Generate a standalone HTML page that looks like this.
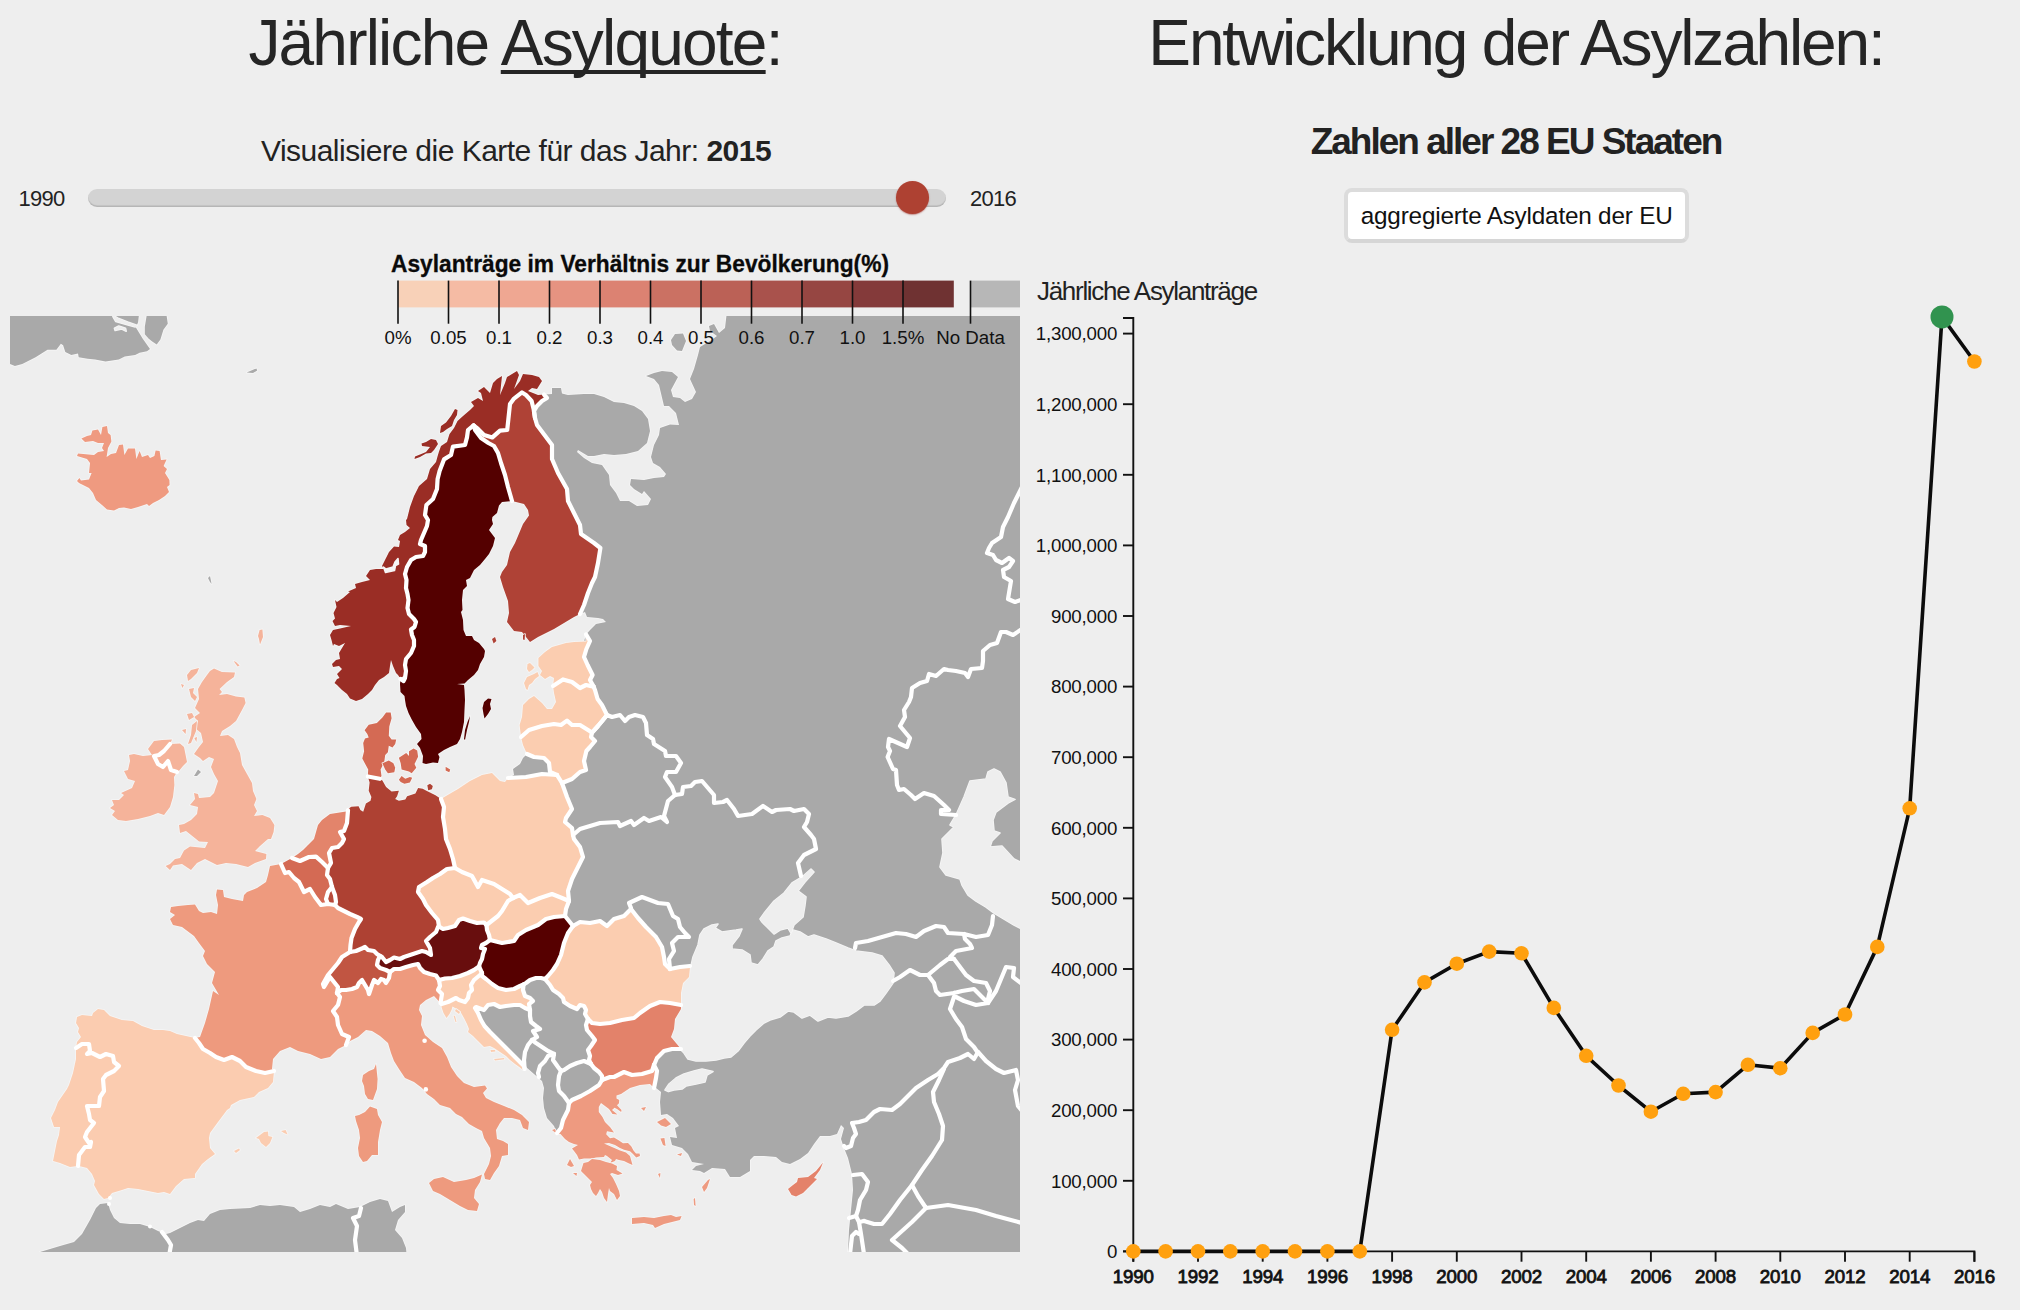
<!DOCTYPE html>
<html lang="de"><head><meta charset="utf-8"><title>Asyl in Europa</title>
<style>
html,body{margin:0;padding:0;background:#eeeeee;}
body{width:2020px;height:1310px;overflow:hidden;position:relative;font-family:"Liberation Sans",Arial,sans-serif;color:#222;}
.abs{position:absolute;white-space:nowrap;}
h1{margin:0;font-weight:400;font-size:64px;line-height:1;color:#252525;letter-spacing:-1.8px}
#t1{left:0;width:1030px;top:11px;text-align:center;}
#t1 u{text-decoration-thickness:3.8px;text-decoration-skip-ink:none;text-underline-offset:5.2px}
#t2{left:1011px;width:1010px;top:11px;text-align:center;letter-spacing:-2.15px}
#sub{left:0;width:1032px;top:133.5px;text-align:center;font-size:30px;letter-spacing:-.52px;color:#222;}
#h3{left:1010px;width:1012px;top:120.5px;text-align:center;font-size:37px;font-weight:700;color:#222;letter-spacing:-2.0px}
#y0{left:18.5px;top:185.9px;font-size:22px;letter-spacing:-.7px;color:#222}
#y1{left:970px;top:185.9px;font-size:22px;letter-spacing:-.7px;color:#222}
#track{left:87.7px;top:188.7px;width:858.1px;height:18.2px;border-radius:9.1px;background:#d3d3d3;box-shadow:inset 0 -1.6px 1px rgba(0,0,0,.14);}
#thumb{left:895.8px;top:181px;width:33px;height:33px;border-radius:50%;background:#ae4132;box-shadow:0 .8px 1.5px rgba(150,30,20,.55)}
#btn{left:1344.3px;top:188px;width:336.7px;height:46.5px;border:4px solid #dcdcdc;border-bottom-color:#d6d6d6;border-radius:8px;background:#fff;text-align:center;font-size:24.3px;letter-spacing:-.2px;line-height:48.5px;color:#111;}
svg text{font-family:"Liberation Sans",Arial,sans-serif;}
.yt{font-size:18.7px;letter-spacing:-.2px;fill:#111}
.xt{font-size:18.7px;fill:#111;stroke:#111;stroke-width:.8px;letter-spacing:-.15px}
.lt{font-size:18.7px;fill:#111}
.ltitle{font-size:24px;font-weight:700;fill:#0a0a0a;stroke:#0a0a0a;stroke-width:.3px}
.ylab{font-size:26px;letter-spacing:-1.3px;fill:#222}
</style></head><body>
<svg class="abs" style="left:0;top:0" width="2020" height="1310" viewBox="0 0 2020 1310">
<defs><clipPath id="mc"><rect x="10" y="316" width="1010" height="936"/></clipPath></defs>
<g clip-path="url(#mc)">
<g stroke="#f6f6f6" stroke-width="1.6" stroke-linejoin="round" paint-order="stroke">
<path d="M139.6,308.9L138.1,322.3L135.9,327.5L142.6,338.6L150,349L147,351.2L139.6,352.7L135.2,355L124.8,356.4L118.8,359.4L105.5,361.6L95.1,359.4L87.6,358.7L78.7,357.2L78,353.5L71.3,355L65.3,352L63.1,345.3L60.9,343.8L56.4,349.8L47.5,349.8L35.6,357.2L22.3,363.9L14.9,366.1L5.9,362.4L5.9,308.9Z" fill="#a9a9a9"/>
<path d="M147.8,308.9L165.6,308.9L167.8,323.8L163.4,329.7L160.4,339.4L156.7,344.6L152.2,341.6L148.5,338.6L144.8,334.2L144.8,326.7Z" fill="#a9a9a9"/>
<path d="M112.9,316.6L115.8,321.5L126.2,324.5L135.2,327L136.9,325.2L127.7,322L118.8,318.6L114.4,316Z" fill="#eeeeee"/>
<path d="M114.4,328.2L118.8,326L125.5,328.2L126.2,331.2L121.8,329L115.1,330.4Z" fill="#eeeeee"/>
<path d="M246.6,372.6L256.4,368.4L257.2,370.6L253,373Z" fill="#a9a9a9"/>
<path d="M671,340L675,334L683,333.4L686,341L682,351L677,350.6L672,345Z" fill="#a9a9a9"/>
<path d="M208,578L210,576L211.6,584L210,582Z" fill="#a9a9a9"/>
<path d="M194,776L198,769.4L201,772L197,776Z" fill="#a9a9a9"/>
<path d="M545,394.6L552,394L552,388L561,388L562,393.4L568,395L584,394L594,394L604,397L614,402L624,403L634,406L642,411L648,419L650,431L647,443L638,451L626,454L614,455L604,454L594,456L588,456L578,450L577,452L584,458L592,463L602,465L609,475L610,485L616,493L620,501L629,501L637,506L648,505L651,499L644,491L642,494L634,489L630,485L631,479L644,480L654,478L664,477L666,474L660,467L653,463L651,457L654,445L659,435L660,428L670,424.6L679,425L676,413L669,406L664,406L659,385L654,379L646,376L654,373L662,371L672,372L678,377L671,390L673,397L680,398L685,402L692,399L696,392L690,379L694,369L698,355L700,347L710,341L717,336L710,331L709,326L714,324L719,333L725,328L727,311L1035,305L1035,1265L848,1265L848,1252L849,1230L851,1210L853,1190L852,1174L848,1158L844,1148L841,1139L844,1128L841,1125L837,1134L830,1136L820,1136L814,1144L808,1153L800,1159L790,1164L782,1162L776,1157L764,1156L754,1156L750,1160L750,1171L740,1177L730,1177L725,1169L712,1168L704,1173L700,1171L692,1170L696,1166L704,1164L692,1162L688,1154L682,1148L672,1145L670,1137L677,1138L675,1128L679,1126L673,1118L667,1114L661,1115L660,1102L661,1092L656,1088L650,1084L650,1066L634,1040L614,990L614,979L594,949L574,933L566,923L562,907L566,889L570,859L566,839L554,837L554,787L554,767L574,747L584,717L580,667L583,645L586,634.4L591,629L596,624L606,622L603,619L598,618L587,617L585,612L580,614L574,607L574,577L584,575L574,535L554,495L542,455L530,427L528,411L534,399Z" fill="#a9a9a9"/>
<path d="M691,966L693,957L698,945L700,935L704,929L712,925L718,924L715,928L722,932L736,930L742,929L739,936L732,945L732,949L742,950L750,955L751,963L758,965L763,959L768,951L774,947L776,941L782,938L790,936L793,930L800,932L808,937L814,935L826,939L836,943L848,948L856,951L872,953L882,956L889,965L894,973L893,983L886,993L880,1001L874,1005L864,1005L856,1011L848,1016L836,1018L828,1017L818,1021L810,1015L802,1018L794,1012L788,1011L780,1017L770,1020L764,1023L756,1030L750,1036L744,1043L738,1051L731,1057L724,1058L716,1060L706,1061L696,1061L688,1059L684,1053L680,1049L670,1039L670,1019L676,999L682,979Z" fill="#eeeeee"/>
<path d="M760,919L765,912L774,901L784,893L792,883L802,877L811,869L814,872L805,882L798,891L806,897L805,905L803,917L794,925L791,933L788,928L780,930L774,934L767,927L762,922Z" fill="#eeeeee"/>
<path d="M956,815L964,797L970,781L986,779L988,772L994,769L1000,772L1006,783L1008,797L1015,799.4L1008,803L996,812L993,820L994,831L1000,833L992,841L990,847L1002,846L1014,859L1022,863L1022,929L1014,925L1004,919L994,913L986,907L976,901L968,895L962,885L960,879L946,875L940,867L943,853L942,839L954,827L950,825Z" fill="#eeeeee"/>
<path d="M665,1090L669,1084L676,1078L684,1074L694,1071L702,1069L713,1071.6L707,1075L705,1082L696,1084L686,1086L682,1089L674,1090L668.4,1091.6Z" fill="#eeeeee"/>
<path d="M524,1065L526,1067L534,1074L542,1081L544,1088L543,1098L544,1108L547,1118L554,1126L557,1133L566,1130L574,1106L594,1094L606,1082L606,1050L594,1014L590,1002L594,999L574,979L554,967L542,967L526,975L518,991L494,997L474,1003L474,1009L474,1017L482,1028L491,1038L500,1047L508,1055L516,1061L523,1066Z" fill="#a9a9a9"/>
<path d="M527,754L523,758L520,764L513,769L514,775L508,778L510,783L558,781L558,769L552,761L538,753Z" fill="#a9a9a9"/>
<path d="M30,1258L40,1252L60,1246L74,1242L82,1234L90,1220L96,1208L100,1204L108,1203L110,1210L114,1218L120,1223L130,1224L140,1224L150,1227L158,1231L166,1234L170,1233L180,1228L190,1223L198,1220L204,1221L210,1214L220,1210L230,1209L250,1208L260,1205L270,1206L280,1205L294,1207L300,1212L310,1209L320,1205L330,1207L336,1204L348,1209L360,1207L370,1202L380,1199L388,1201L392,1212L400,1207L405,1205L405,1212L398,1220L395,1230L402,1238L406,1248L407,1258Z" fill="#a9a9a9"/>
<path d="M400,678L398,675L396,673L393,666L391,660L390,666L389,673L384,677L379,680L375,685L372,690L368,694L362,699L356,701L350,698.5L347,694L342,690L337,685L334.5,683L337,679L339.5,678L337,674L342,669L339,666L333,667L332,664L336,660L340,659L339,653L342,648L345,643L339,646L334,644L333,646L331.5,640L330,635L333,630L340,628.5L351,626L340,625L335,626L332.5,621L335,618.5L333.5,613L336.5,607L335,600L337,602L343,598L350,592L348,591.5L356,588L355,584L362,582L370,580L366,576L370,570L376,569L384,569L382,566L386,558L389,552L394,546.5L399,547L400,541L398,540L400,535L405,532L410,528L406.5,525L406,520L407,519L410,507L414,496L419,486L427,479L430,469L436,462L437.5,456.5L439,451.5L441,446L447,442L449.5,434L454,428L457.5,421L463,416L470,410L474,406L471,402L478,398L483,401L481,393L478,391L484,387L490,393L493,383L497,379L502,376L500,395L505,383L507,377L512,374L517,371L519,375L514,389L520,381L523,374L532,375L539,377L542,381L537,389L532,388L528,391L538,395L544,394.6L544,394.6L547,398L542,401L537,406L534,411L535,418L526,419L522,403L516,409L514,435L504,455L484,475L464,515L444,555L434,577L430,600L428,640L425,670L410,673Z" fill="#9a2d25"/>
<path d="M414.5,459L415,456.5L420,454.5L426,452L430,447L422,446L421.5,443.5L426,442L431,439L436,440L438,444L434,450L431,453L426,453.5L420,457Z" fill="#9a2d25"/>
<path d="M440,433L441,426L446,422.5L451,416L455,409L457.5,410L457,415L454,420L452,426L447,429L443,432Z" fill="#9a2d25"/>
<path d="M383.5,567L385.5,572.5L394.5,570.5L395.5,565.5L398.5,564L398,558.5L395,562L393,567L386,569Z" fill="#f6f6f6"/>
<path d="M400.5,679L400,684L400.5,692L404.5,696L405,700L406,706L408.5,713L412,720L416,727L421,734L421.5,739L417,744L420,748L423,756L422.5,763L426,764L433,762.5L438,763L439.5,757L438,754L444,750L450,747L457,744L460,739L462,732L464,722L464.5,710L465,700L464.5,690L464,685L457,684L464.5,683.5L468,680L474,675L478,670L480,664L484,657L485,651L484,649L479,643L474,640L472,636L466,636L463.5,630L463,620L461,612L462.5,610L462,600L463,590L467,586L466,580L470,578L474,570L480,565L485,559L489,554L493,546L495,538L489,530L493,524L492,520L492.4,517L497,513L499,505.4L502,502L512,501L512,501L508,487L505,475L501,463L498,453L494,446L488.4,443L481,438L475,430L473.6,425.4L473.6,425.4L468,430L467,437.4L465,445L453,446.6L451,455L444,459.4L439.6,471L437.6,479L437,489L433,499L426.4,505L425,515L428,520L427,526L424,533L421,540L420,544L425,546L425,552L423,556L416,557L411,560L407,567L405,574L406.5,580L406,588L407.5,594L408.5,600L407.5,608L409,614L414,619L416,622L414.5,627L411,629.5L412,635L414,640L414,646L411,653L406,659L405,665L406,671L405,678L403.5,681L400.5,679Z" fill="#540000"/>
<path d="M484,702L488,698.5L491.5,699L490,704L491,709L488,714L484.5,718.5L483.5,714L482.5,708Z" fill="#540000"/>
<path d="M470,716L469,722L467,730L465,740L464,739L465,730L467.5,722Z" fill="#540000"/>
<path d="M473.6,425.4L478,429L484,435L492.4,437.4L500,430.6L507.2,430L508.4,419L510,404L514,398.6L522,392.4L526,395L531.6,401L533.6,409L535,418L535,418L537,425L546,437L552,445L552,459L558,473L567,489L568,501L574,513L580,525L581,534L594,543L600.4,548L598,563L595,577L592,583L588,593L584,605L580,614L574,617L564,623L554,629L546,633L538,637L530,642L526,637L522,632L514,631L507,622L509,613L508,601L503,587L500,577L502,572L507,565L510,552L515,543L518.4,535L523,524L529,515.6L528,510L524,504L512,501L512,501L508,487L505,475L501,463L498,453L494,446L488.4,443L481,438L475,430L473.6,425.4Z" fill="#af4236"/>
<path d="M492,639L495,637L496.4,641L493.6,643.4Z" fill="#af4236"/>
<path d="M523,635L525,634L524.6,640L523,639.4Z" fill="#af4236"/>
<path d="M586,634.4L586.4,641.4L574,642L566,643L552,647L545,652L538.4,658L538.4,666L542,671L540,675L545,679L550,676L554,678L553,686L553,686L563,679.4L572,682L580,688L586,685L593.6,686.6L593.6,686.6L590,680L592.6,675L587.6,665L584,657L586.4,649L590,641L586,634.4Z" fill="#fbcdb0"/>
<path d="M527.5,664L530,663L534.5,667.5L532,670L529,672L527,669Z" fill="#fbcdb0"/>
<path d="M524,683L527,677L534,674L537.5,672L539,676L535,679L532,683L529,685L527.5,690L526,689Z" fill="#fbcdb0"/>
<path d="M553,686L554,693L556,702L552,709L547,709L542,703L534,696L529,699L523,705L522,717L519.6,725L521,737L521,737L529,730L542,726L554,724L561,725L567,720.6L572,725L580,725L588,730L592,732.6L592,732.6L598,726L603,720L607,715L602,705L597.6,699L595,690L593.6,686.6L593.6,686.6L586,685L580,688L572,682L563,679.4L553,686Z" fill="#fbcdb0"/>
<path d="M521,737L523,745L527,754L527,754L534,757L544,758L549,763L550,772L557,775L557,775L562,783L562,783L572,779L580,772L586,770L584,761L586.4,751L590,747L595,741L591,737L592,732.6L592,732.6L588,730L580,725L572,725L567,720.6L561,725L554,724L542,726L529,730L521,737Z" fill="#fbcdb0"/>
<path d="M214,668.4L222,672L235,672.6L234,677L227,682L219.6,689L222,692L219,695L227,694L236,696.4L244.4,697.6L245.6,703L242,710L236,721L230,726L222,731L220,736L228,735L234,739L237,747L240,753L242,765L247,774L252,783L253,791L256.4,799L254,805L257,811L254,816L262.4,815L270,818L274.4,825L273.6,832L271,839L268,839L260,846L255,851L266.4,854L266,859L255,863L248,867L236,864L226,863L217,865L205,859L197,863L191,870L182,864L173,865.4L170,870L165.6,866L170,864L175,859L180,858L184,850.6L190,846.6L205,848L208,842L199,841.4L196,839L191,835L186,831L180,833L179,825L184,824L191,820L197,814L198,807L190,805L195,799L194,793L198,794L199,798L210,797L214,793L218,781L214,774L211,767L214,759L209,757L203,761L200,758L194,754L199,747L203,742L201,733L195,728L198,721L194,717L200,713L195,708L199,699L198,689L202,682L207,675L210,671Z" fill="#f5b39a"/>
<path d="M187,675L191,670L199,668L197,673L191,679L188,681Z" fill="#f5b39a"/>
<path d="M181,684L184,685L182.4,688Z" fill="#f5b39a"/>
<path d="M189,689L194,688L193,693L197,697L195,701L191,697Z" fill="#f5b39a"/>
<path d="M187,714L192,713L194,717L189,720Z" fill="#f5b39a"/>
<path d="M182,730L186,729L185.6,734Z" fill="#f5b39a"/>
<path d="M192,725L197,721L196,731L191,743L188,744L191,735Z" fill="#f5b39a"/>
<path d="M194.4,738L197,737L196.4,742Z" fill="#f5b39a"/>
<path d="M233.6,661L236,662L239.6,665.4L237.6,666.6Z" fill="#f5b39a"/>
<path d="M259.6,630L262.4,629.4L263,637L260,644.6L259,639L258,636Z" fill="#f5b39a"/>
<path d="M170,744L180,743.4L184,747L186,757L187,762L183,766L178,772L177,772L177,772L171,770L168,761L163,767L158,764L154,756L159,755L164,751L170,744Z" fill="#f5b39a"/>
<path d="M148,749L154,741L162,740L172,739.4L170,744L170,744L164,751L159,755L154,756L158,764L163,767L168,761L171,770L177,772L174,777L174.4,785L173,797L170,807L164,815L158,813L150,816L138,819L126,821L118,820L112,815L115,811L110,808L114,805L112,800L119,800L124,795L121,793L132,788L135,781L128,779L124,771L128,770L130,761L129,755L134,754L143,756L152,755Z" fill="#f5b39a"/>
<path d="M281,864L270,866L268,875L266,882L257,888L247,892L244,895L243,901L232,899L224,897L223,890L217,889.4L216,895L218,905L217,914L211,912L203,913L199,911L195,904.6L188,905L178,906L171,907L170,912L175,915L170,919L173,925L182,927L194,936L199,943L205,951L203,956L207,964L215,972L212,983L219,995L213,991L209,1009L205,1023L200,1037L195,1038L195,1038L199,1043L203,1049L210,1053L216,1057L224,1060L232,1057L240,1061L246,1067L256,1071L265,1073L274,1071L272,1069L273,1059L280,1051L290,1047L298,1051L310,1054L321,1059L330,1057L338,1049L346,1045L346,1045L349,1037L342,1034L338,1025L337,1017L333,1011L338,1005L340,997L337,993L337,993L338,987L330,977L324,987L323,984L328,975L338,963L342,957L350,952L350,952L350.5,945L351.5,938L355,929L359,922L361,919L357,917L350,914L344,911L338,908L335,905L335,905L328,904L328,904L321,905L315,897L310,889L304,892L299,882L294,878L289,872L285,873L281,864Z" fill="#ee9a7e"/>
<path d="M363,1075L369,1071L374,1069L376,1064L377.6,1079L377,1089L373,1100L368,1099L365,1094L364,1086L362,1081Z" fill="#ee9a7e"/>
<path d="M195,1038L186,1036L177,1034L170,1031L163,1030L154,1030L142,1026L133,1021L122,1020L110,1016L104,1010L98,1009L93,1013L92,1016L82,1015L77,1017L76,1023L79,1028L78,1032L81,1037L77,1042L76,1048L76,1048L82,1044L89,1044L90,1051L87,1054L92,1053L100,1057L106,1054L113,1056L114,1062L119,1066L114,1071L106,1075L103,1079L104,1091L100,1097L99,1106L87,1106L89,1114L90,1120L94,1123L87,1132L85,1137L89,1143L91,1142L90,1147L85,1147L79,1155L78,1166L79,1166L87,1168L92,1174L95,1181L94,1185L99,1194L104,1199L108,1198L112,1193L122,1190L128,1188L138,1189L148,1191L158,1193L164,1192L170,1194L176,1186L184,1179L195,1178L195,1174L202,1164L208,1159L215,1154L210,1148L209,1138L210,1133L218,1122L227,1110L230,1108L231,1105L240,1100L254,1097L259,1092L268,1088L273,1082L274,1071L274,1071L265,1073L256,1071L246,1067L240,1061L232,1057L224,1060L216,1057L210,1053L203,1049L199,1043L195,1038Z" fill="#fbccb0"/>
<path d="M256,1138L264,1132L268,1131.6L268.4,1136L272.4,1137L270,1143L266,1147L261,1143L259,1139Z" fill="#fbccb0"/>
<path d="M281,1131L285.6,1130L287.6,1134.4L284,1133Z" fill="#fbccb0"/>
<path d="M234,1151L239,1148.4L240,1150L236,1153Z" fill="#fbccb0"/>
<path d="M76,1048L76,1059L73,1073L69,1085L67,1089L58,1102L55,1110L51,1118L54,1127L60,1127L59,1135L57,1141L53,1161L60,1163L70,1167L78,1166L78,1166L79,1155L85,1147L90,1147L91,1142L89,1143L85,1137L87,1132L94,1123L90,1120L89,1114L87,1106L99,1106L100,1097L104,1091L103,1079L106,1075L114,1071L119,1066L114,1062L113,1056L106,1054L100,1057L92,1053L87,1054L90,1051L89,1044L82,1044L76,1048Z" fill="#fbccb0"/>
<path d="M281,864L292,858L292,858L300,861L309,857L316,856.6L322,862L328,868L328,868L327,875L330,879L332,887L332,887L328,892L326,899L328,904L328,904L321,905L315,897L310,889L304,892L299,882L294,878L289,872L285,873L281,864Z" fill="#d46a54"/>
<path d="M332,887L328,892L326,899L328,904L328,904L335,905L335,905L336,902L335,895L332,887Z" fill="#b84a3a"/>
<path d="M348,809L346,811.4L330,814L322,820L318,825L314,839L308,845L303,850L298,854L292,858L292,858L300,861L309,857L316,856.6L322,862L328,868L328,868L331,863L329,853L332,848L338,847L342,843L344,839L340,832L344,831L347,823L348,810Z" fill="#e3846b"/>
<path d="M348,809L351.3,806.7L358.6,806.2L360.4,809.9L363.2,811.7L365.9,803.5L370.5,800.7L371.4,797.1L368.7,790.7L369.6,782.4L367.8,776.5L367.8,776.5L379.7,778.8L379.7,778.8L382.4,780.6L386.1,787L391.6,791.6L398.9,790.7L397.1,796.2L395.2,798.9L398.9,800.7L405.3,799.4L407.1,796.2L415.4,793.4L418.1,787.9L422.7,788.8L426.4,790.7L430,792.5L435.5,795.2L441,799L441,799L444,807L443,817L445,829L446,839L450,849L453,859L455,868L455,868L447,869L440,874L433,878L427,882L419,887L418,892L423,899L426,905L432,913L438,920L439,926.5L439,926.5L438,927L436,932L430,937L426,941L430,948L431,955L426,952L422,951L416,953L410,955L404,957L400,959L394,957.5L390,960L386,962L382,957L380,956L380,956L377,954L374,951L368,950L365,947L363,948L356,951L350,952L350,952L350.5,945L351.5,938L355,929L359,922L361,919L357,917L350,914L344,911L338,908L335,905L335,905L336,902L335,895L332,887L332,887L330,879L327,875L328,868L328,868L331,863L329,853L332,848L338,847L342,843L344,839L340,832L344,831L347,823L348,810Z" fill="#ae4133"/>
<path d="M427.3,785.2L430,783.8L432.8,786.1L431.9,789.3L428.2,790.2Z" fill="#ae4133"/>
<path d="M386.1,712.4L390.7,712.4L391.6,718.3L389.3,726.6L388.8,735.7L391.6,739.4L396.2,739.4L395.2,744L392.5,747.6L388.8,745.8L387.9,752.2L385.2,755L384.2,762.3L380.6,769.6L381.5,776L379.7,778.8L367.8,776.5L368.2,769.6L362.3,758.6L364.1,751.3L363.2,743L365,738.5L368.7,737.6L367.3,733.9L364.6,730.2L368.7,724.7L376.9,722.9L382.4,717.4Z" fill="#d46a54"/>
<path d="M382.4,763.2L388.8,760.4L393.4,763.2L395.2,767.8L394.3,772.3L387.9,773.3L385.2,769.6Z" fill="#d46a54"/>
<path d="M398.9,757.7L406.2,753.1L409,755.9L409,751.3L413.6,748.5L417.2,750.4L418.1,756.8L414.5,764.1L416.3,767.8L411.7,773.3L409,771.4L401.6,769.6L400.7,763.2Z" fill="#d46a54"/>
<path d="M398.9,779.7L401.6,776L405.3,778.8L409.9,776.9L412.2,777.8L409.9,782.4L404.4,783.8L400.7,782Z" fill="#d46a54"/>
<path d="M445.6,766.8L450.2,769.6L449.3,772.3L445.6,770.5Z" fill="#d46a54"/>
<path d="M350,952L356,951L363,948L365,947L368,950L374,951L377,954L380,956L380,956L378,960L377,965L380,968L386,970L390,972L390,972L389,978L386,983L384,980L381,979L378,983L374,980L372,985L369,994L368,990L365,985L362,980L359,983L357,987L352,989L346,990L341,990L337,993L337,993L338,987L330,977L324,987L323,984L328,975L338,963L342,957L350,952Z" fill="#c15542"/>
<path d="M439,926.5L438,927L436,932L430,937L426,941L430,948L431,955L426,952L422,951L416,953L410,955L404,957L400,959L394,957.5L390,960L386,962L382,957L380,956L380,956L378,960L377,965L380,968L386,970L390,972L390,972L394,969L400,969L406,967L413,965L418,964L420,968L424,972L430,974L436,975.5L439,980L439,980L445,978.5L452,978L460,976L468,973L474,970L479,966.5L479,966.5L480,963L482,959L483,954L485,949L481,948L482,945L486,943L490,940L490,940L489,935L487,930L486.5,925L486.5,925L484,922.5L477,923L470,921L463,918.5L459,920L455,926L448,928L443,929L439,926.5Z" fill="#680e0e"/>
<path d="M455,868L462,872L472,876L478,887L482,880L494,884L502,889L510,894L513,898L513,898L508,901L502,911L498,916L486.5,925L486.5,925L484,922.5L477,923L470,921L463,918.5L459,920L455,926L448,928L443,929L439,926.5L439,926.5L438,920L432,913L426,905L423,899L418,892L419,887L427,882L433,878L440,874L447,869L455,868Z" fill="#fbcdb0"/>
<path d="M441,799L446,796L458,789L470,781L482,775L492,773L500,781L505,782L508,778L508,778L526,777L542,774L557,775L557,775L562,783L562,783L567,797L572,809L566,818L565,822L572,828L573,835L573,835L574,839L580,847L583,857L578,867L572,879L568,891L569,901L569,901L562,898L552,894L540,898L528,903L520,895L513,898L513,898L510,894L502,889L494,884L482,880L478,887L472,876L462,872L455,868L455,868L453,859L450,849L446,839L445,829L443,817L444,807L441,799Z" fill="#fbcdb0"/>
<path d="M513,898L520,895L528,903L540,898L552,894L562,898L569,901L569,901L566,909L565,916L565,916L554,917L546,919L538,925L526,930L518,935L514,941L502,943L490,940L490,940L489,935L487,930L486.5,925L486.5,925L498,916L502,911L508,901L513,898Z" fill="#fbcdb0"/>
<path d="M490,940L502,943L514,941L518,935L526,930L538,925L546,919L554,917L565,916L565,916L573,926L573,926L568,933L564,943L561,955L557,964L553,970L548,976L545,979L545,979L541,978L536,978L530,980L526,983L523.5,984.5L523.5,984.5L520,986L514,989L506,990L498,988L492,984L486,979L482,976L482,973L482,973L479,966.5L479,966.5L480,963L482,959L483,954L485,949L481,948L482,945L486,943L490,940Z" fill="#560000"/>
<path d="M439,980L445,978.5L452,978L460,976L468,973L474,970L479,966.5L479,966.5L482,973L482,973L480,975L474,980L471,985L472,990L469,993L468,998L465,1002L459,1000L456,998L448,1002L441.5,1004L440.5,1003L441,1000L442,994L438,990L440,986L439,980Z" fill="#fbcdb0"/>
<path d="M482,973L482,976L486,979L492,984L498,988L506,990L514,989L520,986L523.5,984.5L523.5,984.5L523,990L525,996L530,998L533,1001L529,1004L530,1010L530,1010L525,1008L520,1005L514,1005L506,1006L500,1007L494,1004L488,1005L484,1010L476,1007L475,1008L478,1013L481,1020L484.5,1026L490,1032L496,1038L502,1044L506,1048L510,1052L515,1057L520,1062L524,1066L524.5,1069L523,1070L520,1067.5L515,1064L510,1060L506,1056L500,1052L494,1048L490,1046L484,1047L482,1045L478,1041L473,1036L468,1032L469,1029L467,1024L464,1018L460,1011L452.5,1006.5L451.5,1010L449.5,1014L446.5,1018L443.5,1013L441.5,1007L441.5,1004L441.5,1004L448,1002L456,998L459,1000L465,1002L468,998L469,993L472,990L471,985L474,980L480,975L482,973Z" fill="#fbcdb0"/>
<path d="M456,1009L460,1012L459,1014L455,1011Z" fill="#fbcdb0"/>
<path d="M453.5,1015.5L455,1016L456.5,1022L455.5,1022Z" fill="#fbcdb0"/>
<path d="M490.5,1050L495,1050L495.5,1051.5L491,1052Z" fill="#fbcdb0"/>
<path d="M494,1059L504,1058L504.5,1059.3L495,1060.5Z" fill="#fbcdb0"/>
<path d="M573,926L580,922L590,923L600,921L607,926L614,919L624,916L631,909L631,909L638,918L646,927L656,937L662,947L664,957L665,964L670,969L670,969L680,967L690,966L690,967L689,977L683,983L681,993L681,1005L681,1005L670,1003L660,1002L650,1006L640,1013L634,1018L622,1020L610,1023L600,1024L592,1023L588,1019L588,1019L585,1014L586,1010L584,1006L580,1005L577,1009L570,1006L564,1002L563,998L559,994L553,990L550,985L545,979L545,979L548,976L553,970L557,964L561,955L564,943L568,933L573,926Z" fill="#fbcdb0"/>
<path d="M588,1019L592,1023L600,1024L610,1023L622,1020L634,1018L640,1013L650,1006L660,1002L670,1003L681,1005L681,1009L675,1019L674,1029L671,1037L676,1043L681,1049L681,1049L672,1049L664,1051L657,1058L654,1065L654,1065L652,1071L642,1074L632,1075L624,1072L614,1077L610,1077L602,1080L602,1080L602,1076L599,1072L594,1068L591,1064L591,1064L589,1060L590,1056L588,1050L591,1046L595,1040L592,1036L587,1030L586,1025L588,1019Z" fill="#e3826a"/>
<path d="M602,1080L610,1077L614,1077L624,1072L632,1075L642,1074L652,1071L654,1065L654,1065L657,1071L656,1078L654,1088L654,1088L650,1084L640,1085L630,1088L621,1094L616.5,1095.5L616.5,1098.5L619.2,1100L619,1103.2L617,1105.2L621.5,1110L621.2,1112L617,1109L614.5,1107.8L612,1110L617.5,1114.5L612.5,1114L609,1109L601,1103L598.8,1107L598.8,1112L602.5,1117L605,1122L610,1127L614,1132.5L607,1131.2L606.2,1134.2L610,1138.2L614,1137.5L619,1140.5L623,1143.2L628,1143L631.2,1146.2L633.5,1150.5L636,1153.5L639.6,1153.5L640,1156L636.2,1157.5L633,1154L630,1151.2L624,1149.8L620,1148L615,1145L609,1143L604,1143.5L612,1147L620,1150.5L626,1152.5L630,1156L632.5,1165L628,1163L624,1161L619,1160L616,1159L615,1161L610,1163L612,1160L607,1156L605,1155L604,1157L596,1157.5L592,1158.5L584,1158.5L579,1159.5L577,1155L574,1151L572,1148.5L578,1145L574,1144L569,1142L565,1139L560.5,1134L557,1133.5L557,1133L561,1128L563,1120L568,1110L569,1103L569,1103L572,1100L581,1096L590,1091L599,1085L602,1080Z" fill="#ee9a80"/>
<path d="M583.5,1163L588,1162L592,1159L600,1160L606,1162L612,1163.5L617,1166L616.5,1170L622.5,1173.5L618,1175L612,1173L610,1174L613,1178L616,1184L619,1191L620,1196L617,1200L614,1194L610,1191L609,1188L608,1194L607,1202L604,1198L602,1192L600,1189L598,1193L596,1196L593,1193L591,1189L590,1185L592,1182L588,1178L584,1174L581,1171Z" fill="#ee9a80"/>
<path d="M552,1130L555,1129L557,1134Z" fill="#ee9a80"/>
<path d="M567,1165L570,1159L574,1166L571,1167Z" fill="#ee9a80"/>
<path d="M573,1173L577,1173L576.4,1176Z" fill="#ee9a80"/>
<path d="M641,1108L646,1107L644,1111Z" fill="#ee9a80"/>
<path d="M657,1122L665,1118L671,1124L666,1127L661,1125.6Z" fill="#ee9a80"/>
<path d="M660.4,1138.4L664.4,1138L665.6,1146L663,1145Z" fill="#ee9a80"/>
<path d="M677,1154.4L682,1153L681,1156Z" fill="#ee9a80"/>
<path d="M702,1187L708,1180L710,1179L707,1188L704,1192Z" fill="#ee9a80"/>
<path d="M693.6,1199L695,1198L695.6,1206L694,1205Z" fill="#ee9a80"/>
<path d="M632,1218L644,1217L654,1218L664,1216L671,1215L676,1217L681.6,1216L680,1220L672,1222L664,1224L655,1228L653,1225L644,1223L632,1224Z" fill="#ee9a80"/>
<path d="M658,1174L660.4,1173L660,1178Z" fill="#ee9a80"/>
<path d="M788,1189L793,1185L797,1182L798,1178L808,1177L816,1171L823,1162.4L820,1170L814,1178L817,1179L808,1188L803,1193L796,1196.4L791.6,1195Z" fill="#e4826a"/>
<path d="M346,1045L349,1037L342,1034L338,1025L337,1017L333,1011L338,1005L340,997L337,993L337,993L341,990L346,990L352,989L357,987L359,983L362,980L365,985L368,990L369,994L372,985L374,980L378,983L381,979L384,980L386,983L389,978L390,972L390,972L394,969L400,969L406,967L413,965L418,964L420,968L424,972L430,974L436,975.5L439,980L439,980L440,986L438,990L442,994L441,1000L440.5,1003L434,996L426,1000L420,1005L419,1010L422,1016L421,1025L425,1035L433,1042L442,1048L447,1057L451,1067L457,1076L464,1083L474,1087L485,1085.6L487,1088.4L483,1093L486,1098L494,1102L504,1106L514,1110L522,1115L529,1122L528,1130L523,1128L520,1120L512,1118L504,1118L500,1123L496,1130L497,1139L503,1141L508,1144L508,1155L502,1156L499,1166L494,1173L490,1180L485,1179L484,1174L489,1164L491,1156L490,1148L484,1138L482,1131L476,1128L469,1124L462,1117L456,1114L450,1108L440,1105L434,1099L427,1094L422,1088L414,1082L405,1078L399,1069L394,1061L391,1053L388,1043L380,1036L372,1031L366,1030L358,1037L350,1041L346,1045Z" fill="#ee9a7e"/>
<path d="M429,1183L434,1179L443,1177L454,1182L466,1180L474,1178L482,1174.4L480,1182L475,1190L474,1198L479,1204L477,1211L468,1210L460,1206L450,1200L440,1194L433,1191Z" fill="#ee9a7e"/>
<path d="M355,1116L359,1115L365,1112L370,1106.4L377,1109L378,1115L382,1122L380,1130L378,1142L378,1155L372,1155L367,1161L363,1162L359,1156L358,1148L360,1138L359,1130L356,1121Z" fill="#ee9a7e"/>
<path d="M81.4,438.6L87,436L91,435L92.4,430.6L98,429.4L101,435L102.4,427L107,426L108,433L110.6,435L111.4,441.4L108,448L106.6,457L111,454L116,453L119,445L123,444.6L124.4,455L128,448.6L135,448.6L136.4,459L139.6,451L142,457L148,455L150,458L154.4,456L155.6,450.6L159.6,451L161,460L166.6,459.4L163.6,466L167,469L165,473L169.4,480L169.6,485L167,487L169,492L165,496L159,500L153,503L149,506L147,504L138,507L131,509L124,507.4L119,508L114,510.6L107,509.4L102,505L96,500L93,493L89,488L79,483L77,481L79.4,478L81,480.6L89,479.4L91.6,473L89,473L90,463L87,459L77,456L78,453.6L94,455L98,452L104,451L102,448L104,443L98,443L93,441L85,442Z" fill="#ef9a80"/>
</g>
<g fill="none" stroke="#fff" stroke-width="4.2" stroke-linejoin="round" stroke-linecap="round">
<path d="M544,394.6L547,398L542,401L537,406L534,411L535,418"/>
<path d="M473.6,425.4L468,430L467,437.4L465,445L453,446.6L451,455L444,459.4L439.6,471L437.6,479L437,489L433,499L426.4,505L425,515L428,520L427,526L424,533L421,540L420,544L425,546L425,552L423,556L416,557L411,560L407,567L405,574L406.5,580L406,588L407.5,594L408.5,600L407.5,608L409,614L414,619L416,622L414.5,627L411,629.5L412,635L414,640L414,646L411,653L406,659L405,665L406,671L405,678L403.5,681L400.5,679"/>
<path d="M473.6,425.4L478,429L484,435L492.4,437.4L500,430.6L507.2,430L508.4,419L510,404L514,398.6L522,392.4L526,395L531.6,401L533.6,409L535,418"/>
<path d="M535,418L537,425L546,437L552,445L552,459L558,473L567,489L568,501L574,513L580,525L581,534L594,543L600.4,548L598,563L595,577L592,583L588,593L584,605L580,614"/>
<path d="M473.6,425.4L475,430L481,438L488.4,443L494,446L498,453L501,463L505,475L508,487L512,501"/>
<path d="M586,634.4L590,641L586.4,649L584,657L587.6,665L592.6,675L590,680L593.6,686.6"/>
<path d="M553,686L563,679.4L572,682L580,688L586,685L593.6,686.6"/>
<path d="M593.6,686.6L595,690L597.6,699L602,705L607,715L603,720L598,726L592,732.6"/>
<path d="M521,737L529,730L542,726L554,724L561,725L567,720.6L572,725L580,725L588,730L592,732.6"/>
<path d="M592,732.6L591,737L595,741L590,747L586.4,751L584,761L586,770L580,772L572,779L562,783"/>
<path d="M562,783L557,775"/>
<path d="M557,775L550,772L549,763L544,758L534,757L527,754"/>
<path d="M170,744L164,751L159,755L154,756L158,764L163,767L168,761L171,770L177,772"/>
<path d="M195,1038L199,1043L203,1049L210,1053L216,1057L224,1060L232,1057L240,1061L246,1067L256,1071L265,1073L274,1071"/>
<path d="M346,1045L349,1037L342,1034L338,1025L337,1017L333,1011L338,1005L340,997L337,993"/>
<path d="M337,993L338,987L330,977L324,987L323,984L328,975L338,963L342,957L350,952"/>
<path d="M350,952L350.5,945L351.5,938L355,929L359,922L361,919L357,917L350,914L344,911L338,908L335,905"/>
<path d="M335,905L328,904"/>
<path d="M328,904L321,905L315,897L310,889L304,892L299,882L294,878L289,872L285,873L281,864"/>
<path d="M76,1048L82,1044L89,1044L90,1051L87,1054L92,1053L100,1057L106,1054L113,1056L114,1062L119,1066L114,1071L106,1075L103,1079L104,1091L100,1097L99,1106L87,1106L89,1114L90,1120L94,1123L87,1132L85,1137L89,1143L91,1142L90,1147L85,1147L79,1155L78,1166"/>
<path d="M292,858L300,861L309,857L316,856.6L322,862L328,868"/>
<path d="M328,868L327,875L330,879L332,887"/>
<path d="M332,887L328,892L326,899L328,904"/>
<path d="M332,887L335,895L336,902L335,905"/>
<path d="M328,868L331,863L329,853L332,848L338,847L342,843L344,839L340,832L344,831L347,823L348,810"/>
<path d="M367.8,776.5L379.7,778.8"/>
<path d="M441,799L444,807L443,817L445,829L446,839L450,849L453,859L455,868"/>
<path d="M455,868L447,869L440,874L433,878L427,882L419,887L418,892L423,899L426,905L432,913L438,920L439,926.5"/>
<path d="M439,926.5L438,927L436,932L430,937L426,941L430,948L431,955L426,952L422,951L416,953L410,955L404,957L400,959L394,957.5L390,960L386,962L382,957L380,956"/>
<path d="M380,956L377,954L374,951L368,950L365,947L363,948L356,951L350,952"/>
<path d="M380,956L378,960L377,965L380,968L386,970L390,972"/>
<path d="M390,972L389,978L386,983L384,980L381,979L378,983L374,980L372,985L369,994L368,990L365,985L362,980L359,983L357,987L352,989L346,990L341,990L337,993"/>
<path d="M390,972L394,969L400,969L406,967L413,965L418,964L420,968L424,972L430,974L436,975.5L439,980"/>
<path d="M439,980L445,978.5L452,978L460,976L468,973L474,970L479,966.5"/>
<path d="M479,966.5L480,963L482,959L483,954L485,949L481,948L482,945L486,943L490,940"/>
<path d="M490,940L489,935L487,930L486.5,925"/>
<path d="M486.5,925L484,922.5L477,923L470,921L463,918.5L459,920L455,926L448,928L443,929L439,926.5"/>
<path d="M455,868L462,872L472,876L478,887L482,880L494,884L502,889L510,894L513,898"/>
<path d="M513,898L508,901L502,911L498,916L486.5,925"/>
<path d="M508,778L526,777L542,774L557,775"/>
<path d="M562,783L567,797L572,809L566,818L565,822L572,828L573,835"/>
<path d="M573,835L574,839L580,847L583,857L578,867L572,879L568,891L569,901"/>
<path d="M513,898L520,895L528,903L540,898L552,894L562,898L569,901"/>
<path d="M569,901L566,909L565,916"/>
<path d="M565,916L554,917L546,919L538,925L526,930L518,935L514,941L502,943L490,940"/>
<path d="M565,916L573,926"/>
<path d="M573,926L568,933L564,943L561,955L557,964L553,970L548,976L545,979"/>
<path d="M545,979L541,978L536,978L530,980L526,983L523.5,984.5"/>
<path d="M523.5,984.5L520,986L514,989L506,990L498,988L492,984L486,979L482,976L482,973"/>
<path d="M482,973L479,966.5"/>
<path d="M482,973L480,975L474,980L471,985L472,990L469,993L468,998L465,1002L459,1000L456,998L448,1002L441.5,1004"/>
<path d="M440.5,1003L441,1000L442,994L438,990L440,986L439,980"/>
<path d="M523.5,984.5L523,990L525,996L530,998L533,1001L529,1004L530,1010"/>
<path d="M530,1010L525,1008L520,1005L514,1005L506,1006L500,1007L494,1004L488,1005L484,1010L476,1007L475,1008L478,1013L481,1020L484.5,1026L490,1032L496,1038L502,1044L506,1048L510,1052L515,1057L520,1062L524,1066L524.5,1069"/>
<path d="M573,926L580,922L590,923L600,921L607,926L614,919L624,916L631,909"/>
<path d="M631,909L638,918L646,927L656,937L662,947L664,957L665,964L670,969"/>
<path d="M670,969L680,967L690,966"/>
<path d="M681,1005L670,1003L660,1002L650,1006L640,1013L634,1018L622,1020L610,1023L600,1024L592,1023L588,1019"/>
<path d="M588,1019L585,1014L586,1010L584,1006L580,1005L577,1009L570,1006L564,1002L563,998L559,994L553,990L550,985L545,979"/>
<path d="M681,1049L672,1049L664,1051L657,1058L654,1065"/>
<path d="M654,1065L652,1071L642,1074L632,1075L624,1072L614,1077L610,1077L602,1080"/>
<path d="M602,1080L602,1076L599,1072L594,1068L591,1064"/>
<path d="M591,1064L589,1060L590,1056L588,1050L591,1046L595,1040L592,1036L587,1030L586,1025L588,1019"/>
<path d="M602,1080L599,1085L590,1091L581,1096L572,1100L569,1103"/>
<path d="M569,1103L568,1110L563,1120L561,1128L557,1133"/>
<path d="M654,1065L657,1071L656,1078L654,1088"/>
<path d="M592,732.6L598,726L603,720L607,715L612,717L620,715L625,721L629,717L635,715L643,717L646,723L647,735L653,739L654,744L665,751L666,756L676,756L681,763L676,772L667,772L665,777L672,787L675,795"/>
<path d="M675,795L668,801L664,816L667,822L661,817L649,821L644,818L634,825L631,821L620,826L618,822L600,823L580,829L573,835"/>
<path d="M675,795L682,794L683,787L691,786L695,782L702,781L708,788L714,795L714,803L723,802L727,800L734,809L738,816L752,814L763,806L772,812L776,810L790,809L794,811L804,809L809,814L807,822L804,827L811,835L814,839L816,849L804,855L798,863L801,876"/>
<path d="M631,908L629,903L642,897L658,903L668,904L673,916L678,919L680,927L685,933L689,937L678,937L672,943L674,951L669,959L670,969"/>
<path d="M1022,487L1014,503L1008,517L1003,527L1001,537L992,543L989,548L987,553L993,555L996,560L1002,563L1009,558L1013,561L1009,567L1003,570L1004,577L1011,581L1008,599L1015,602L1022,599.4"/>
<path d="M1022,629L1013,635L1006,632L1001,632L997,643L990,645L983,651L983,661L982,668L971,669L968,677L965,673L956,671L948,670L944,669L936,676L929,674L927,681L920,683L912,688L911,697L909,702L904,710L905,717L900,726L910,738L907,747L889,739L888,747L890,751L887.6,757L893,769L896,770L897,785L899,790L904,789L911,795L915,799L924,793L934,796L944,805L949,810L941,810L941,814L956,815"/>
<path d="M855,948L856,943L868,941L882,937L896,933L906,934L916,937L924,931L936,926L944,927L948,933L964,934L976,937L988,935L992,925L993,916"/>
<path d="M964,934L965,939L970,944L972,948L956,951L950,957L954,959L960,967L966,975L974,981L986,983L990,991L988,999L988,1003"/>
<path d="M893,981L900,977L910,970L920,975L928,975L940,965L948,959L954,959"/>
<path d="M928,975L934,983L936,991L940,995L954,993L962,991L974,989L984,999L988,1003L976,1005L964,1001L956,997L954,993"/>
<path d="M988,1003L996,991L1006,967L1014,968L1013,977L1022,984"/>
<path d="M954,997L950,1009L956,1019L962,1027L966,1039L974,1047L978,1053"/>
<path d="M844,1146L846,1148L851,1146L853,1138L856,1134L854,1128L852,1123L859,1122L866,1120L874,1112L880,1109L892,1110L900,1104L908,1096L916,1088L928,1080L938,1074L944,1068L948,1062L960,1058L968,1054L974,1059L978,1052"/>
<path d="M978,1052L986,1061L996,1069L1004,1073L1016,1070L1018,1080L1015,1090L1018,1106L1022,1111"/>
<path d="M944,1069L939,1080L933,1092L934,1102L939,1114L943,1126L942,1140L932,1156L922,1170L912,1185L900,1200L890,1214L882,1224L874,1224L864,1221"/>
<path d="M912,1185L918,1196L926,1208L948,1205L976,1210L996,1216L1022,1223"/>
<path d="M926,1208L912,1222L892,1240L902,1248L908,1254"/>
<path d="M853,1175L862,1174L868,1182L866,1190L860,1200L858,1210L856,1216L849,1218"/>
<path d="M856,1216L859,1222L864,1221"/>
<path d="M859,1222L861,1234L864,1254"/>
<path d="M850,1254L852,1236L856,1232L859,1234"/>
<path d="M530,1010L530,1016L531,1022L536,1026L540,1029L533,1031L537,1037L532,1040"/>
<path d="M532,1040L528,1045L525,1052L524,1060L524.5,1068"/>
<path d="M532,1040L536,1043L542,1047L548,1051L554,1054"/>
<path d="M554,1054L548,1056L545,1061L540,1066L538,1073L539,1077"/>
<path d="M554,1054L553,1060L558,1067L561,1071L564,1070L570,1066L577,1063L584,1061L591,1064"/>
<path d="M561,1071L559,1076L558,1085L559,1091L564,1096L569,1103"/>
<path d="M162,1232L168,1240L171,1245L169,1256"/>
<path d="M361,1208L359,1216L353,1218L357,1226L355,1240L357,1256"/>
<circle cx="424.6" cy="1040.7" r="2.3" fill="#fff" stroke="none"/>
<circle cx="425.8" cy="1089.4" r="2.3" fill="#fff" stroke="none"/>
<circle cx="110" cy="1198" r="2.0" fill="#fff" stroke="none"/>
<circle cx="109" cy="1204" r="2.0" fill="#fff" stroke="none"/>
<circle cx="150" cy="1226.6" r="2.0" fill="#fff" stroke="none"/>
</g>
</g>
<rect x="398.0" y="280.6" width="50.8" height="26.8" fill="#f8d1b8"/>
<rect x="448.5" y="280.6" width="50.8" height="26.8" fill="#f5bba4"/>
<rect x="499.0" y="280.6" width="50.8" height="26.8" fill="#efa792"/>
<rect x="549.5" y="280.6" width="50.8" height="26.8" fill="#e69381"/>
<rect x="600.0" y="280.6" width="50.8" height="26.8" fill="#dc8272"/>
<rect x="650.5" y="280.6" width="50.8" height="26.8" fill="#cb7163"/>
<rect x="701.0" y="280.6" width="50.8" height="26.8" fill="#bb6156"/>
<rect x="751.5" y="280.6" width="50.8" height="26.8" fill="#a9524c"/>
<rect x="802.0" y="280.6" width="50.8" height="26.8" fill="#964642"/>
<rect x="852.5" y="280.6" width="50.8" height="26.8" fill="#843a3a"/>
<rect x="903.0" y="280.6" width="50.8" height="26.8" fill="#6f3232"/>
<rect x="971" y="280.6" width="49" height="26.8" fill="#b7b7b7"/>
<line x1="398.0" x2="398.0" y1="280.6" y2="323.7" stroke="#111" stroke-width="1.6"/>
<text x="398.0" y="344" text-anchor="middle" class="lt">0%</text>
<line x1="448.5" x2="448.5" y1="280.6" y2="323.7" stroke="#111" stroke-width="1.6"/>
<text x="448.5" y="344" text-anchor="middle" class="lt">0.05</text>
<line x1="499.0" x2="499.0" y1="280.6" y2="323.7" stroke="#111" stroke-width="1.6"/>
<text x="499.0" y="344" text-anchor="middle" class="lt">0.1</text>
<line x1="549.5" x2="549.5" y1="280.6" y2="323.7" stroke="#111" stroke-width="1.6"/>
<text x="549.5" y="344" text-anchor="middle" class="lt">0.2</text>
<line x1="600.0" x2="600.0" y1="280.6" y2="323.7" stroke="#111" stroke-width="1.6"/>
<text x="600.0" y="344" text-anchor="middle" class="lt">0.3</text>
<line x1="650.5" x2="650.5" y1="280.6" y2="323.7" stroke="#111" stroke-width="1.6"/>
<text x="650.5" y="344" text-anchor="middle" class="lt">0.4</text>
<line x1="701.0" x2="701.0" y1="280.6" y2="323.7" stroke="#111" stroke-width="1.6"/>
<text x="701.0" y="344" text-anchor="middle" class="lt">0.5</text>
<line x1="751.5" x2="751.5" y1="280.6" y2="323.7" stroke="#111" stroke-width="1.6"/>
<text x="751.5" y="344" text-anchor="middle" class="lt">0.6</text>
<line x1="802.0" x2="802.0" y1="280.6" y2="323.7" stroke="#111" stroke-width="1.6"/>
<text x="802.0" y="344" text-anchor="middle" class="lt">0.7</text>
<line x1="852.5" x2="852.5" y1="280.6" y2="323.7" stroke="#111" stroke-width="1.6"/>
<text x="852.5" y="344" text-anchor="middle" class="lt">1.0</text>
<line x1="903.0" x2="903.0" y1="280.6" y2="323.7" stroke="#111" stroke-width="1.6"/>
<text x="903.0" y="344" text-anchor="middle" class="lt">1.5%</text>
<line x1="970.5" x2="970.5" y1="280.6" y2="323.7" stroke="#111" stroke-width="1.6"/>
<text x="970.5" y="344" text-anchor="middle" class="lt">No Data</text>
<text x="391" y="271.8" class="ltitle" textLength="498" lengthAdjust="spacingAndGlyphs">Asylanträge im Verhältnis zur Bevölkerung(%)</text>
<text x="1037" y="299.6" class="ylab">Jährliche Asylanträge</text>
<path d="M1123.0,318H1133.3V1251.4H1123.0" fill="none" stroke="#111" stroke-width="1.9"/>
<line x1="1123.0" x2="1133.3" y1="1251.4" y2="1251.4" stroke="#111" stroke-width="1.9"/>
<text x="1117.1" y="1258.2" text-anchor="end" class="yt">0</text>
<line x1="1123.0" x2="1133.3" y1="1180.8" y2="1180.8" stroke="#111" stroke-width="1.9"/>
<text x="1117.1" y="1187.6" text-anchor="end" class="yt">100,000</text>
<line x1="1123.0" x2="1133.3" y1="1110.2" y2="1110.2" stroke="#111" stroke-width="1.9"/>
<text x="1117.1" y="1117.0" text-anchor="end" class="yt">200,000</text>
<line x1="1123.0" x2="1133.3" y1="1039.6" y2="1039.6" stroke="#111" stroke-width="1.9"/>
<text x="1117.1" y="1046.4" text-anchor="end" class="yt">300,000</text>
<line x1="1123.0" x2="1133.3" y1="969.0" y2="969.0" stroke="#111" stroke-width="1.9"/>
<text x="1117.1" y="975.8" text-anchor="end" class="yt">400,000</text>
<line x1="1123.0" x2="1133.3" y1="898.4" y2="898.4" stroke="#111" stroke-width="1.9"/>
<text x="1117.1" y="905.2" text-anchor="end" class="yt">500,000</text>
<line x1="1123.0" x2="1133.3" y1="827.8" y2="827.8" stroke="#111" stroke-width="1.9"/>
<text x="1117.1" y="834.6" text-anchor="end" class="yt">600,000</text>
<line x1="1123.0" x2="1133.3" y1="757.2" y2="757.2" stroke="#111" stroke-width="1.9"/>
<text x="1117.1" y="764.0" text-anchor="end" class="yt">700,000</text>
<line x1="1123.0" x2="1133.3" y1="686.6" y2="686.6" stroke="#111" stroke-width="1.9"/>
<text x="1117.1" y="693.4" text-anchor="end" class="yt">800,000</text>
<line x1="1123.0" x2="1133.3" y1="616.0" y2="616.0" stroke="#111" stroke-width="1.9"/>
<text x="1117.1" y="622.8" text-anchor="end" class="yt">900,000</text>
<line x1="1123.0" x2="1133.3" y1="545.4" y2="545.4" stroke="#111" stroke-width="1.9"/>
<text x="1117.1" y="552.2" text-anchor="end" class="yt">1,000,000</text>
<line x1="1123.0" x2="1133.3" y1="474.8" y2="474.8" stroke="#111" stroke-width="1.9"/>
<text x="1117.1" y="481.6" text-anchor="end" class="yt">1,100,000</text>
<line x1="1123.0" x2="1133.3" y1="404.2" y2="404.2" stroke="#111" stroke-width="1.9"/>
<text x="1117.1" y="411.0" text-anchor="end" class="yt">1,200,000</text>
<line x1="1123.0" x2="1133.3" y1="333.6" y2="333.6" stroke="#111" stroke-width="1.9"/>
<text x="1117.1" y="340.4" text-anchor="end" class="yt">1,300,000</text>
<path d="M1133.3,1261.7V1251.4H1974.4V1261.7" fill="none" stroke="#111" stroke-width="1.9"/>
<line x1="1133.3" x2="1133.3" y1="1251.4" y2="1261.7" stroke="#111" stroke-width="1.9"/>
<text x="1133.3" y="1283.2" text-anchor="middle" class="xt">1990</text>
<line x1="1198.0" x2="1198.0" y1="1251.4" y2="1261.7" stroke="#111" stroke-width="1.9"/>
<text x="1198.0" y="1283.2" text-anchor="middle" class="xt">1992</text>
<line x1="1262.7" x2="1262.7" y1="1251.4" y2="1261.7" stroke="#111" stroke-width="1.9"/>
<text x="1262.7" y="1283.2" text-anchor="middle" class="xt">1994</text>
<line x1="1327.4" x2="1327.4" y1="1251.4" y2="1261.7" stroke="#111" stroke-width="1.9"/>
<text x="1327.4" y="1283.2" text-anchor="middle" class="xt">1996</text>
<line x1="1392.1" x2="1392.1" y1="1251.4" y2="1261.7" stroke="#111" stroke-width="1.9"/>
<text x="1392.1" y="1283.2" text-anchor="middle" class="xt">1998</text>
<line x1="1456.8" x2="1456.8" y1="1251.4" y2="1261.7" stroke="#111" stroke-width="1.9"/>
<text x="1456.8" y="1283.2" text-anchor="middle" class="xt">2000</text>
<line x1="1521.5" x2="1521.5" y1="1251.4" y2="1261.7" stroke="#111" stroke-width="1.9"/>
<text x="1521.5" y="1283.2" text-anchor="middle" class="xt">2002</text>
<line x1="1586.2" x2="1586.2" y1="1251.4" y2="1261.7" stroke="#111" stroke-width="1.9"/>
<text x="1586.2" y="1283.2" text-anchor="middle" class="xt">2004</text>
<line x1="1650.9" x2="1650.9" y1="1251.4" y2="1261.7" stroke="#111" stroke-width="1.9"/>
<text x="1650.9" y="1283.2" text-anchor="middle" class="xt">2006</text>
<line x1="1715.6" x2="1715.6" y1="1251.4" y2="1261.7" stroke="#111" stroke-width="1.9"/>
<text x="1715.6" y="1283.2" text-anchor="middle" class="xt">2008</text>
<line x1="1780.3" x2="1780.3" y1="1251.4" y2="1261.7" stroke="#111" stroke-width="1.9"/>
<text x="1780.3" y="1283.2" text-anchor="middle" class="xt">2010</text>
<line x1="1845.0" x2="1845.0" y1="1251.4" y2="1261.7" stroke="#111" stroke-width="1.9"/>
<text x="1845.0" y="1283.2" text-anchor="middle" class="xt">2012</text>
<line x1="1909.7" x2="1909.7" y1="1251.4" y2="1261.7" stroke="#111" stroke-width="1.9"/>
<text x="1909.7" y="1283.2" text-anchor="middle" class="xt">2014</text>
<line x1="1974.4" x2="1974.4" y1="1251.4" y2="1261.7" stroke="#111" stroke-width="1.9"/>
<text x="1974.4" y="1283.2" text-anchor="middle" class="xt">2016</text>
<path d="M1133.3,1251.4 L1165.6,1251.4 L1198.0,1251.4 L1230.3,1251.4 L1262.7,1251.4 L1295.0,1251.4 L1327.4,1251.4 L1359.8,1251.4 L1392.1,1029.8 L1424.5,982.4 L1456.8,963.7 L1489.2,951.6 L1521.5,953.3 L1553.8,1007.9 L1586.2,1055.8 L1618.5,1085.5 L1650.9,1111.7 L1683.2,1093.8 L1715.6,1092.1 L1747.9,1064.8 L1780.3,1068.2 L1812.7,1032.9 L1845.0,1014.5 L1877.3,946.9 L1909.7,808.3 L1942.0,316.9 L1974.4,361.5" fill="none" stroke="#0c0c0c" stroke-width="3.6" stroke-linejoin="round"/>
<circle cx="1133.3" cy="1251.4" r="7.3" fill="#ffa00f"/>
<circle cx="1165.6" cy="1251.4" r="7.3" fill="#ffa00f"/>
<circle cx="1198.0" cy="1251.4" r="7.3" fill="#ffa00f"/>
<circle cx="1230.3" cy="1251.4" r="7.3" fill="#ffa00f"/>
<circle cx="1262.7" cy="1251.4" r="7.3" fill="#ffa00f"/>
<circle cx="1295.0" cy="1251.4" r="7.3" fill="#ffa00f"/>
<circle cx="1327.4" cy="1251.4" r="7.3" fill="#ffa00f"/>
<circle cx="1359.8" cy="1251.4" r="7.3" fill="#ffa00f"/>
<circle cx="1392.1" cy="1029.8" r="7.3" fill="#ffa00f"/>
<circle cx="1424.5" cy="982.4" r="7.3" fill="#ffa00f"/>
<circle cx="1456.8" cy="963.7" r="7.3" fill="#ffa00f"/>
<circle cx="1489.2" cy="951.6" r="7.3" fill="#ffa00f"/>
<circle cx="1521.5" cy="953.3" r="7.3" fill="#ffa00f"/>
<circle cx="1553.8" cy="1007.9" r="7.3" fill="#ffa00f"/>
<circle cx="1586.2" cy="1055.8" r="7.3" fill="#ffa00f"/>
<circle cx="1618.5" cy="1085.5" r="7.3" fill="#ffa00f"/>
<circle cx="1650.9" cy="1111.7" r="7.3" fill="#ffa00f"/>
<circle cx="1683.2" cy="1093.8" r="7.3" fill="#ffa00f"/>
<circle cx="1715.6" cy="1092.1" r="7.3" fill="#ffa00f"/>
<circle cx="1747.9" cy="1064.8" r="7.3" fill="#ffa00f"/>
<circle cx="1780.3" cy="1068.2" r="7.3" fill="#ffa00f"/>
<circle cx="1812.7" cy="1032.9" r="7.3" fill="#ffa00f"/>
<circle cx="1845.0" cy="1014.5" r="7.3" fill="#ffa00f"/>
<circle cx="1877.3" cy="946.9" r="7.3" fill="#ffa00f"/>
<circle cx="1909.7" cy="808.3" r="7.3" fill="#ffa00f"/>
<circle cx="1942.0" cy="316.9" r="11.5" fill="#31934f"/>
<circle cx="1974.4" cy="361.5" r="7.3" fill="#ffa00f"/>

</svg>
<h1 id="t1" class="abs">Jährliche <u>Asylquote</u>:</h1>
<h1 id="t2" class="abs">Entwicklung der Asylzahlen:</h1>
<div id="sub" class="abs">Visualisiere die Karte für das Jahr: <b>2015</b></div>
<div id="h3" class="abs">Zahlen aller 28 EU Staaten</div>
<div id="y0" class="abs">1990</div><div id="y1" class="abs">2016</div>
<div id="track" class="abs"></div><div id="thumb" class="abs"></div>
<div id="btn" class="abs">aggregierte Asyldaten der EU</div>
</body></html>
